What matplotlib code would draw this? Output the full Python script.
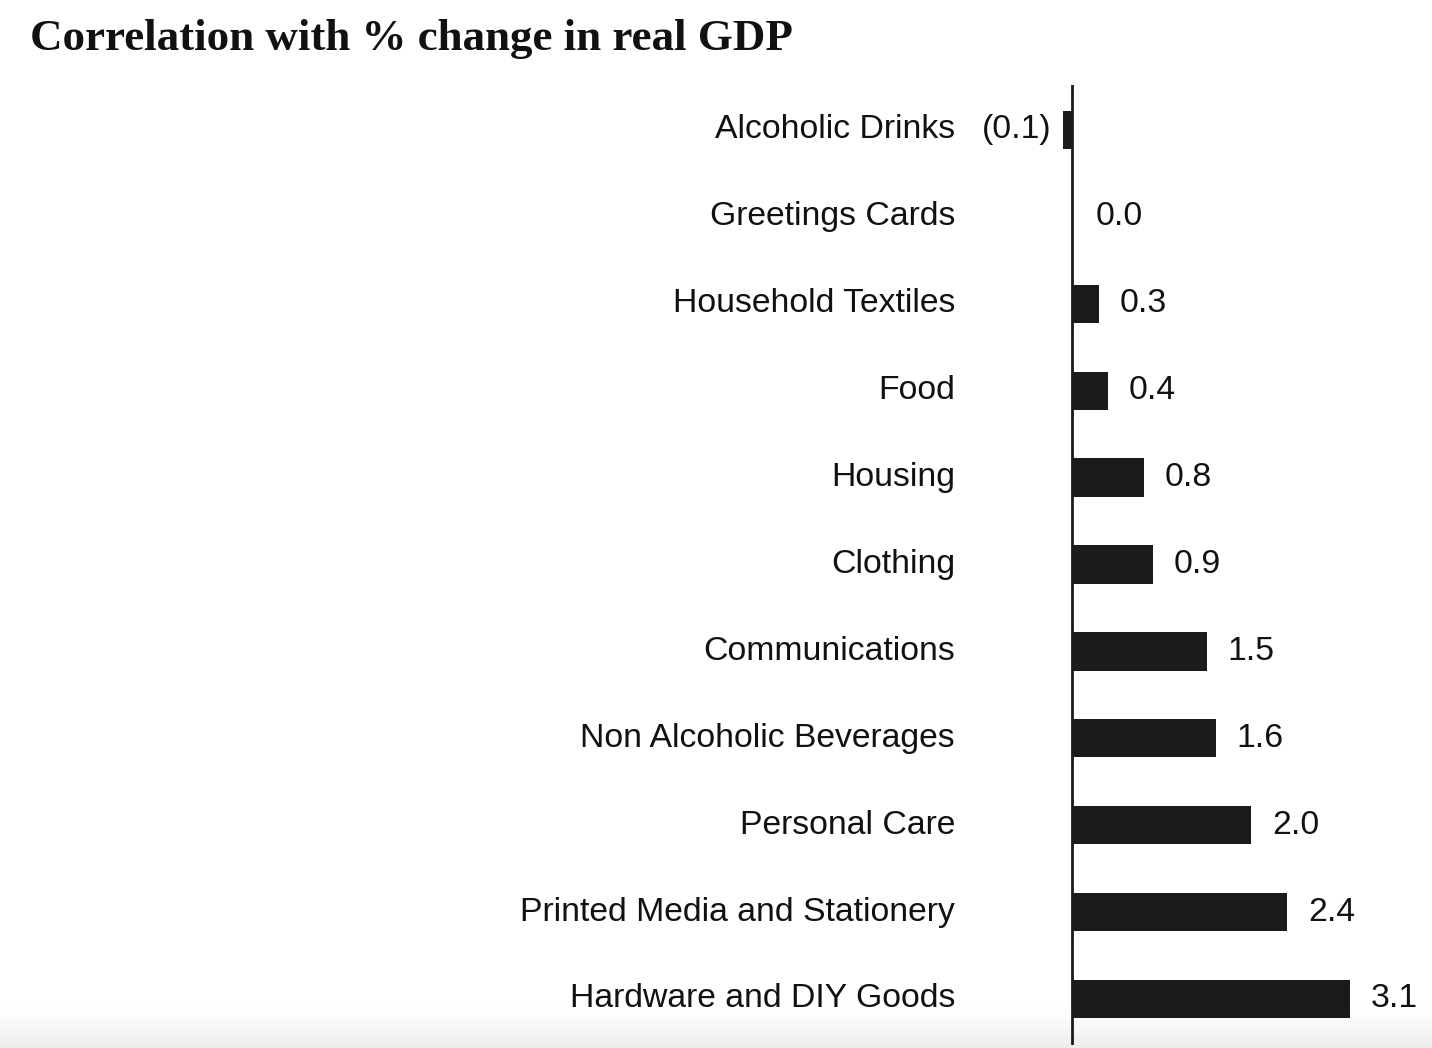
import matplotlib
matplotlib.use("Agg")
import matplotlib.pyplot as plt
import matplotlib.transforms as mtransforms
import numpy as np

categories = ["Alcoholic Drinks", "Greetings Cards", "Household Textiles", "Food",
              "Housing", "Clothing", "Communications", "Non Alcoholic Beverages",
              "Personal Care", "Printed Media and Stationery", "Hardware and DIY Goods"]
values = [-0.1, 0.0, 0.3, 0.4, 0.8, 0.9, 1.5, 1.6, 2.0, 2.4, 3.1]
value_labels = ["(0.1)", "0.0", "0.3", "0.4", "0.8", "0.9", "1.5", "1.6", "2.0", "2.4", "3.1"]

W, H = 1432, 1048
fig = plt.figure(figsize=(W / 100, H / 100), dpi=100)
fig.patch.set_facecolor("white")

# subtle bottom shading
bg = fig.add_axes([0, 0, 1, 1], zorder=0)
bg.set_axis_off()
grad = np.linspace(0, 1, 300)[:, None]
grad = np.clip((grad - 0.96) / 0.04, 0, 1) ** 1.3
img = 1 - 0.065 * grad
bg.imshow(np.dstack([img, img, img]), extent=[0, 1, 1, 0], aspect="auto", origin="upper")
bg.set_xlim(0, 1)
bg.set_ylim(1, 0)

# axes: x px 1000..1432, y px 85..1045
x0, x1 = 1000, 1432
y0, y1 = 85, 1045
ax = fig.add_axes([x0 / W, 1 - y1 / H, (x1 - x0) / W, (y1 - y0) / H], zorder=1)
ax.patch.set_alpha(0)
scale = 89.7  # px per unit
row = 86.9
ax.set_xlim(-(1072 - x0) / scale, (x1 - 1072) / scale)
ax.set_ylim(10 + (y1 - 999) / row, -(130 - y0) / row)

ypos = np.arange(len(categories))
ax.barh(ypos, values, height=0.44, color="#1c1a1b", zorder=2)
ax.axvline(0, color="#1c1a1b", lw=2, zorder=3)
for s in ax.spines.values():
    s.set_visible(False)
ax.set_xticks([])
ax.set_yticks([])

font = "Liberation Sans"
fs = 24.3
trans = mtransforms.blended_transform_factory(fig.transFigure, ax.transData)
for y, c in zip(ypos, categories):
    fig.text(955 / W, y, c, transform=trans, ha="right", va="center",
             fontsize=fs, family=font, color="#111111")

off = 21 / scale
for y, v, lab in zip(ypos, values, value_labels):
    if v < 0:
        ax.text(v - 12 / scale, y, lab, ha="right", va="center", fontsize=fs,
                family=font, color="#111111")
    else:
        ax.text(max(v, 0) + off + (3 / scale if v == 0 else 0), y, lab, ha="left",
                va="center", fontsize=fs, family=font, color="#111111")

fig.text(30 / W, 1 - 39 / H, "Correlation with % change in real GDP", ha="left",
         va="center", fontsize=32.4, fontweight="bold", family="Liberation Serif",
         color="#111111")

fig.savefig("out.png", dpi=100)
